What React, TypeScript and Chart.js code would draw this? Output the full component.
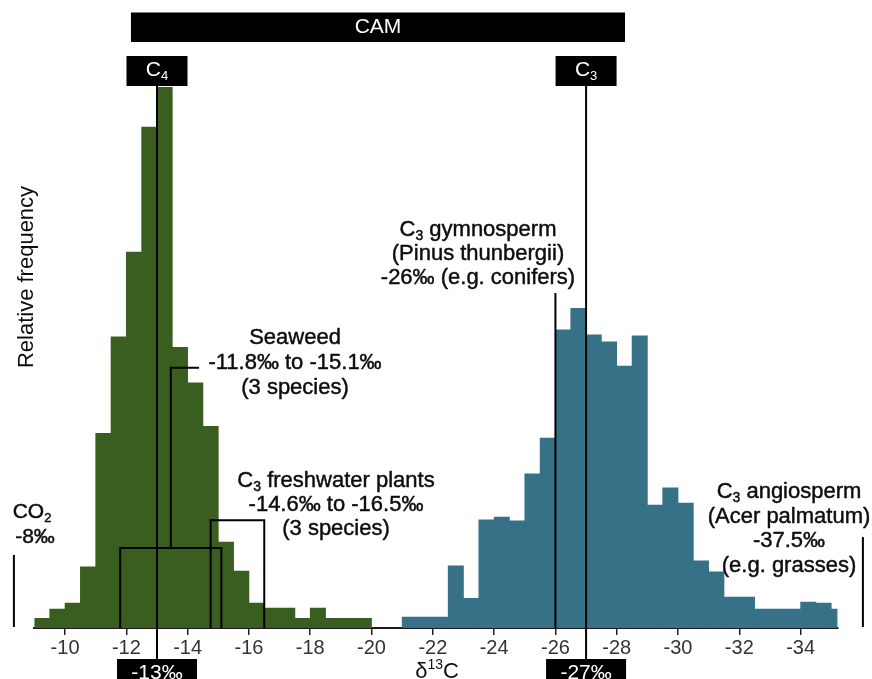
import React, { useEffect, useRef } from 'react';
import { Chart, registerables } from 'chart.js';

Chart.register(...registerables);

// δ13C bin centres (‰) and relative frequency (peak = 100)
const C4_BINS = [-9.25, -9.75, -10.25, -10.75, -11.25, -11.75, -12.25, -12.75, -13.25, -13.75, -14.25, -14.75, -15.25, -15.75, -16.25, -16.75, -17.25, -17.75, -18.25, -18.75, -19.25, -19.75];
const C4_FREQ = [1.8, 3.5, 4.6, 11.3, 36.0, 53.8, 69.5, 92.6, 100, 51.9, 45.3, 37.3, 15.9, 10.5, 4.6, 3.7, 3.7, 1.8, 3.7, 1.8, 1.8, 1.8];

const C3_BINS = [-21.25, -21.75, -22.25, -22.75, -23.25, -23.75, -24.25, -24.75, -25.25, -25.75, -26.25, -26.75, -27.25, -27.75, -28.25, -28.75, -29.25, -29.75, -30.25, -30.75, -31.25, -31.75, -32.25, -32.75, -33.25, -33.75, -34.25, -34.75, -35.25];
const C3_FREQ = [2.0, 2.0, 2.0, 11.5, 5.5, 20.0, 20.5, 19.8, 28.5, 35.1, 55.1, 59.1, 54.2, 52.9, 48.4, 54.0, 22.7, 25.9, 23.1, 12.4, 10.4, 5.7, 5.7, 3.5, 3.5, 3.5, 4.8, 4.6, 3.5];

const X_TICKS = [-10, -12, -14, -16, -18, -20, -22, -24, -26, -28, -30, -32, -34];
const X_MIN = -35.2;
const X_MAX = -9;
const Y_MAX = 100;

// reference marks (‰) and bracket heights (relative frequency units)
const C4_MARK = -13;
const C3_MARK = -27;
const GYMNOSPERM_MARK = -26;
const GYMNOSPERM_LINE_TOP = 61.9;
const CAM_RANGE = [-12.15, -28.27];
const SEAWEED_RANGE = [-11.8, -15.1];
const SEAWEED_BOX_TOP = 14.8;
const SEAWEED_LEADER_TOP = 48.1;
const FRESHWATER_RANGE = [-14.75, -16.5];
const FRESHWATER_BOX_TOP = 19.9;
const CO2_LINE_TOP = 13.5;
const ANGIOSPERM_LINE_TOP = 16.8;

const GREEN = '#3a5e1f';
const BLUE = '#367187';
const FAMILY = "'Liberation Sans', Arial, Helvetica, sans-serif";

type Part = [string, 'n' | 'sub' | 'sup'];

function drawRich(ctx: CanvasRenderingContext2D, parts: Part[], cx: number, cy: number, size: number, color: string, heavy = false) {
  const fontFor = (k: string) => `${k === 'n' ? size : Math.round(size * 0.62)}px ${FAMILY}`;
  let total = 0;
  const widths = parts.map(([t, k]) => {
    ctx.font = fontFor(k);
    const w = ctx.measureText(t).width;
    total += w;
    return w;
  });
  let x = cx - total / 2;
  ctx.fillStyle = color;
  ctx.strokeStyle = color;
  ctx.lineWidth = 0.45;
  ctx.lineJoin = 'round';
  ctx.textBaseline = 'middle';
  ctx.textAlign = 'left';
  parts.forEach(([t, k], i) => {
    ctx.font = fontFor(k);
    const dy = k === 'sub' ? size * 0.3 : k === 'sup' ? -size * 0.3 : 0;
    ctx.fillText(t, x, cy + dy);
    if (heavy) ctx.strokeText(t, x, cy + dy);
    x += widths[i];
  });
}

const annotationPlugin = {
  id: 'isotopeAnnotations',
  afterDraw(chart: any) {
    const { ctx, scales, chartArea } = chart;
    const xs = scales.x;
    const ys = scales.y;
    const px = (v: number) => xs.getPixelForValue(v);
    const py = (v: number) => ys.getPixelForValue(v);
    const base = py(0);
    const TEXT = '#0d0d0d';
    ctx.save();

    const seg = (pts: number[][]) => {
      ctx.beginPath();
      ctx.moveTo(pts[0][0], pts[0][1]);
      for (let i = 1; i < pts.length; i++) ctx.lineTo(pts[i][0], pts[i][1]);
      ctx.stroke();
    };

    // black label boxes
    ctx.fillStyle = '#000';
    const camL = px(CAM_RANGE[0]);
    const camR = px(CAM_RANGE[1]);
    ctx.fillRect(camL, 12.5, camR - camL, 29.5);
    const c4x = px(C4_MARK);
    const c3x = px(C3_MARK);
    ctx.fillRect(c4x - 30.5, 56, 61, 30);
    ctx.fillRect(c3x - 30.5, 56, 61, 30);
    ctx.fillRect(c4x - 40, 659, 80, 30);
    ctx.fillRect(c3x - 40, 659, 80, 30);

    // vertical marker lines
    ctx.strokeStyle = '#000';
    ctx.lineWidth = 2;
    seg([[c4x, 86], [c4x, 659]]);
    seg([[c3x, 86], [c3x, 659]]);
    const gx = px(GYMNOSPERM_MARK);
    seg([[gx, py(GYMNOSPERM_LINE_TOP)], [gx, base]]);

    // seaweed bracket and leader
    const sL = px(SEAWEED_RANGE[0]);
    const sR = px(SEAWEED_RANGE[1]);
    const sT = py(SEAWEED_BOX_TOP);
    seg([[sL, base], [sL, sT], [sR, sT], [sR, base]]);
    const sm = (sL + sR) / 2;
    const lt = py(SEAWEED_LEADER_TOP);
    seg([[sm, sT], [sm, lt], [199, lt]]);

    // freshwater bracket
    const fL = px(FRESHWATER_RANGE[0]);
    const fR = px(FRESHWATER_RANGE[1]);
    const fT = py(FRESHWATER_BOX_TOP);
    seg([[fL, base], [fL, fT], [fR, fT], [fR, base]]);

    // edge markers (CO2 and C3 angiosperm, off-scale)
    const leftX = chartArea.left - 20.5;
    const rightX = chartArea.right + 25.5;
    seg([[leftX, py(CO2_LINE_TOP)], [leftX, base - 1]]);
    seg([[rightX, py(ANGIOSPERM_LINE_TOP)], [rightX, base - 1]]);

    // white box labels
    drawRich(ctx, [['CAM', 'n']], (camL + camR) / 2, 27.5, 21, '#fff');
    drawRich(ctx, [['C', 'n'], ['4', 'sub']], c4x, 70, 21, '#fff');
    drawRich(ctx, [['C', 'n'], ['3', 'sub']], c3x, 70, 21, '#fff');
    drawRich(ctx, [['-13‰', 'n']], c4x, 673, 21, '#fff');
    drawRich(ctx, [['-27‰', 'n']], c3x, 673, 21, '#fff');

    // axis titles
    drawRich(ctx, [['δ', 'n'], ['13', 'sup'], ['C', 'n']], 437, 672, 22, TEXT);
    ctx.save();
    ctx.translate(27, 277);
    ctx.rotate(-Math.PI / 2);
    drawRich(ctx, [['Relative frequency', 'n']], 0, 0, 22, TEXT);
    ctx.restore();

    // CO2
    drawRich(ctx, [['CO', 'n'], ['2', 'sub']], 32, 512, 21, TEXT, true);
    drawRich(ctx, [['-8‰', 'n']], 35, 537, 21, TEXT, true);

    // Seaweed
    drawRich(ctx, [['Seaweed', 'n']], 295, 338, 22, TEXT, true);
    drawRich(ctx, [['-11.8‰ to -15.1‰', 'n']], 295, 363, 22, TEXT, true);
    drawRich(ctx, [['(3 species)', 'n']], 295, 388, 22, TEXT, true);

    // Freshwater
    drawRich(ctx, [['C', 'n'], ['3', 'sub'], [' freshwater plants', 'n']], 336, 481, 22, TEXT, true);
    drawRich(ctx, [['-14.6‰ to -16.5‰', 'n']], 336, 505, 22, TEXT, true);
    drawRich(ctx, [['(3 species)', 'n']], 336, 529, 22, TEXT, true);

    // Gymnosperm
    drawRich(ctx, [['C', 'n'], ['3', 'sub'], [' gymnosperm', 'n']], 478, 230, 22, TEXT, true);
    drawRich(ctx, [['(Pinus thunbergii)', 'n']], 478, 254, 22, TEXT, true);
    drawRich(ctx, [['-26‰ (e.g. conifers)', 'n']], 478, 278, 22, TEXT, true);

    // Angiosperm
    drawRich(ctx, [['C', 'n'], ['3', 'sub'], [' angiosperm', 'n']], 789, 492, 22, TEXT, true);
    drawRich(ctx, [['(Acer palmatum)', 'n']], 789, 517, 22, TEXT, true);
    drawRich(ctx, [['-37.5‰', 'n']], 789, 541, 22, TEXT, true);
    drawRich(ctx, [['(e.g. grasses)', 'n']], 789, 566, 22, TEXT, true);

    ctx.restore();
  },
};

export default function App() {
  const canvasRef = useRef<HTMLCanvasElement | null>(null);

  useEffect(() => {
    if (!canvasRef.current) return;
    const chart = new Chart(canvasRef.current, {
      type: 'bar',
      data: {
        datasets: [
          {
            label: 'C4',
            data: C4_BINS.map((x, i) => ({ x, y: C4_FREQ[i] })),
            backgroundColor: GREEN,
            borderWidth: 0,
            barPercentage: 1,
            categoryPercentage: 1,
            grouped: false,
          } as any,
          {
            label: 'C3',
            data: C3_BINS.map((x, i) => ({ x, y: C3_FREQ[i] })),
            backgroundColor: BLUE,
            borderWidth: 0,
            barPercentage: 1,
            categoryPercentage: 1,
            grouped: false,
          } as any,
        ],
      },
      options: {
        animation: false,
        responsive: false,
        devicePixelRatio: 1,
        layout: { padding: { left: 34.4, right: 34.6, top: 87, bottom: 0 } },
        plugins: {
          legend: { display: false },
          tooltip: { enabled: false },
          title: { display: false },
        },
        scales: {
          x: {
            type: 'linear',
            reverse: true,
            min: X_MIN,
            max: X_MAX,
            offset: false,
            afterBuildTicks: (axis: any) => {
              axis.ticks = X_TICKS.map((value) => ({ value }));
            },
            afterFit: (axis: any) => {
              axis.height = 51;
            },
            ticks: {
              autoSkip: false,
              maxRotation: 0,
              padding: 1,
              color: '#333',
              font: { family: FAMILY, size: 20 },
              callback: (v: any) => String(v),
            },
            grid: {
              display: true,
              offset: false,
              drawOnChartArea: false,
              drawTicks: true,
              tickLength: 7,
              color: '#222',
              lineWidth: 1.5,
            },
            border: { display: true, color: '#1a1a1a', width: 2 },
          },
          y: {
            display: false,
            min: 0,
            max: Y_MAX,
          },
        },
      } as any,
      plugins: [annotationPlugin],
    });
    return () => chart.destroy();
  }, []);

  return (
    <div style={{ position: 'absolute', left: 0, top: 0, width: 872, height: 679, background: '#fff' }}>
      <canvas ref={canvasRef} width={872} height={679} style={{ display: 'block' }} />
    </div>
  );
}
